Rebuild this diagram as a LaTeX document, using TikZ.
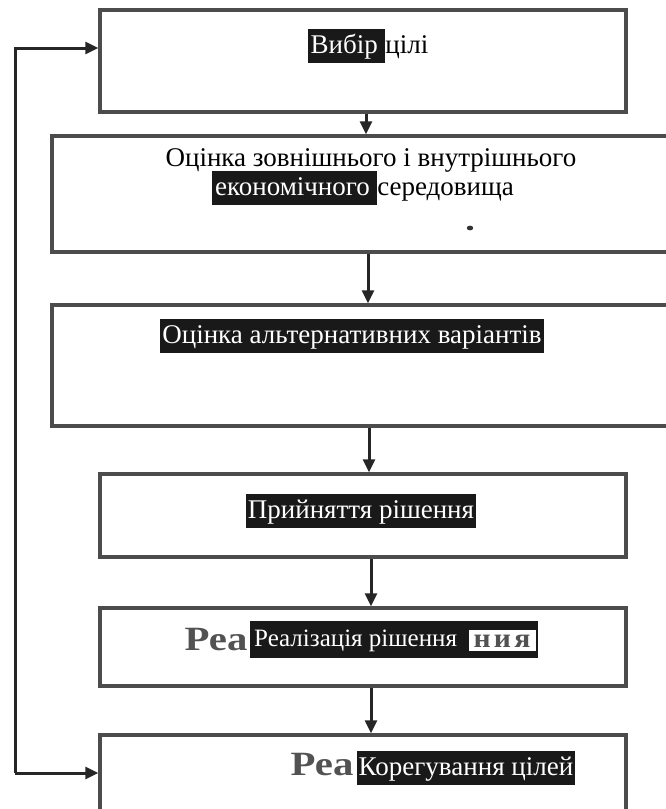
\documentclass[tikz,border=0pt]{standalone}
\usepackage{fontspec}
\usepackage{graphicx}
\setmainfont{Liberation Serif}
\usetikzlibrary{arrows.meta}
\tikzset{
  x=1pt, y=-1pt,
  frame/.style={draw=black!70, line width=3.4pt, inner sep=0pt},
  flow/.style={draw=black!85, line width=3pt, line join=miter, -{Triangle[length=13pt,width=12pt]}},
  txt/.style={font=\fontsize{27}{31}\selectfont, inner sep=0pt},
  hl/.style={txt, fill=black!90, text=white, inner xsep=2pt, inner ysep=3pt, text height=21pt, text depth=7pt},
  smear/.style={font=\fontsize{34}{36}\selectfont\bfseries, text=black!68, inner sep=0pt},
}
\newcommand{\hlword}[1]{{\setlength{\fboxsep}{3pt}\colorbox{black!90}{\rule[-7pt]{0pt}{28pt}\color{white}#1}}}
\newcommand{\wideRea}{\scalebox{1.2}[1]{Реа}}
\newcommand{\wideNya}{\scalebox{1.1}[1]{н\hspace{3pt}и\hspace{3pt}я}}
\begin{document}
\begin{tikzpicture}
\useasboundingbox (0,0) rectangle (666,809);
\clip (0,0) rectangle (666,809);

% boxes
\node[frame, minimum width=526pt, minimum height=102pt] (b1) at (363,61) {};
\node[frame, minimum width=648pt, minimum height=116pt] (b2) at (376,194) {};
\node[frame, minimum width=648pt, minimum height=121pt] (b3) at (376,365.5) {};
\node[frame, minimum width=526pt, minimum height=83pt] (b4) at (363,515.5) {};
\node[frame, minimum width=526pt, minimum height=78pt] (b5) at (363,647) {};
\node[frame, minimum width=526pt, minimum height=105pt] (b6) at (363,787.5) {};

% labels
\node[txt] (t1) at (368,46) {\hlword{Вибір\,}цілі};
\node[txt] (t2a) at (371,160) {Оцінка зовнішнього і внутрішнього};
\node[txt] (t2b) at (363,188) {\hlword{економічного\,}середовища};
\fill[black!80] (470,228) ellipse (3.2 and 2.4);
\node[hl] (t3) at (352,336) {Оцінка альтернативних варіантів};
\node[hl] (t4) at (361,511) {Прийняття рішення};

\node[fill=black!90, minimum width=288pt, minimum height=37pt, inner sep=0pt] (h5) at (394,639) {};
\node[txt, font=\fontsize{25}{29}\selectfont, text=white, anchor=west] (t5) at (254,641) {Реалізація рішення};
\node[fill=white, minimum width=67pt, minimum height=21pt, inner sep=0pt] (w5) at (502,640) {};
\node[smear, font=\fontsize{27}{29}\selectfont\bfseries] (n5) at (502,641) {\wideNya};
\node[smear] (r5) at (216,640) {\wideRea};

\node[hl] (t6) at (466,768) {Корегування цілей};
\node[smear] (r6) at (322,765) {\wideRea};

% connectors
\draw[flow] ([xshift=3pt]b1.south) -- ([xshift=3pt]b1.south |- b2.north);
\draw[flow] ([xshift=-8pt]b2.south) -- ([xshift=-8pt]b2.south |- b3.north);
\draw[flow] ([xshift=-7pt]b3.south) -- ([xshift=-7pt]b3.south |- b4.north);
\draw[flow] ([xshift=8pt]b4.south) -- ([xshift=8pt]b4.south |- b5.north);
\draw[flow] ([xshift=8pt]b5.south) -- ([xshift=8pt]b5.south |- b6.north);

\coordinate (lt) at (15,48);
\coordinate (lb) at (15,773);
\draw[flow] (lb) -- (lt) -- (lt -| b1.west);
\draw[flow] (lb) -- (lb -| b6.west);
\end{tikzpicture}
\end{document}
